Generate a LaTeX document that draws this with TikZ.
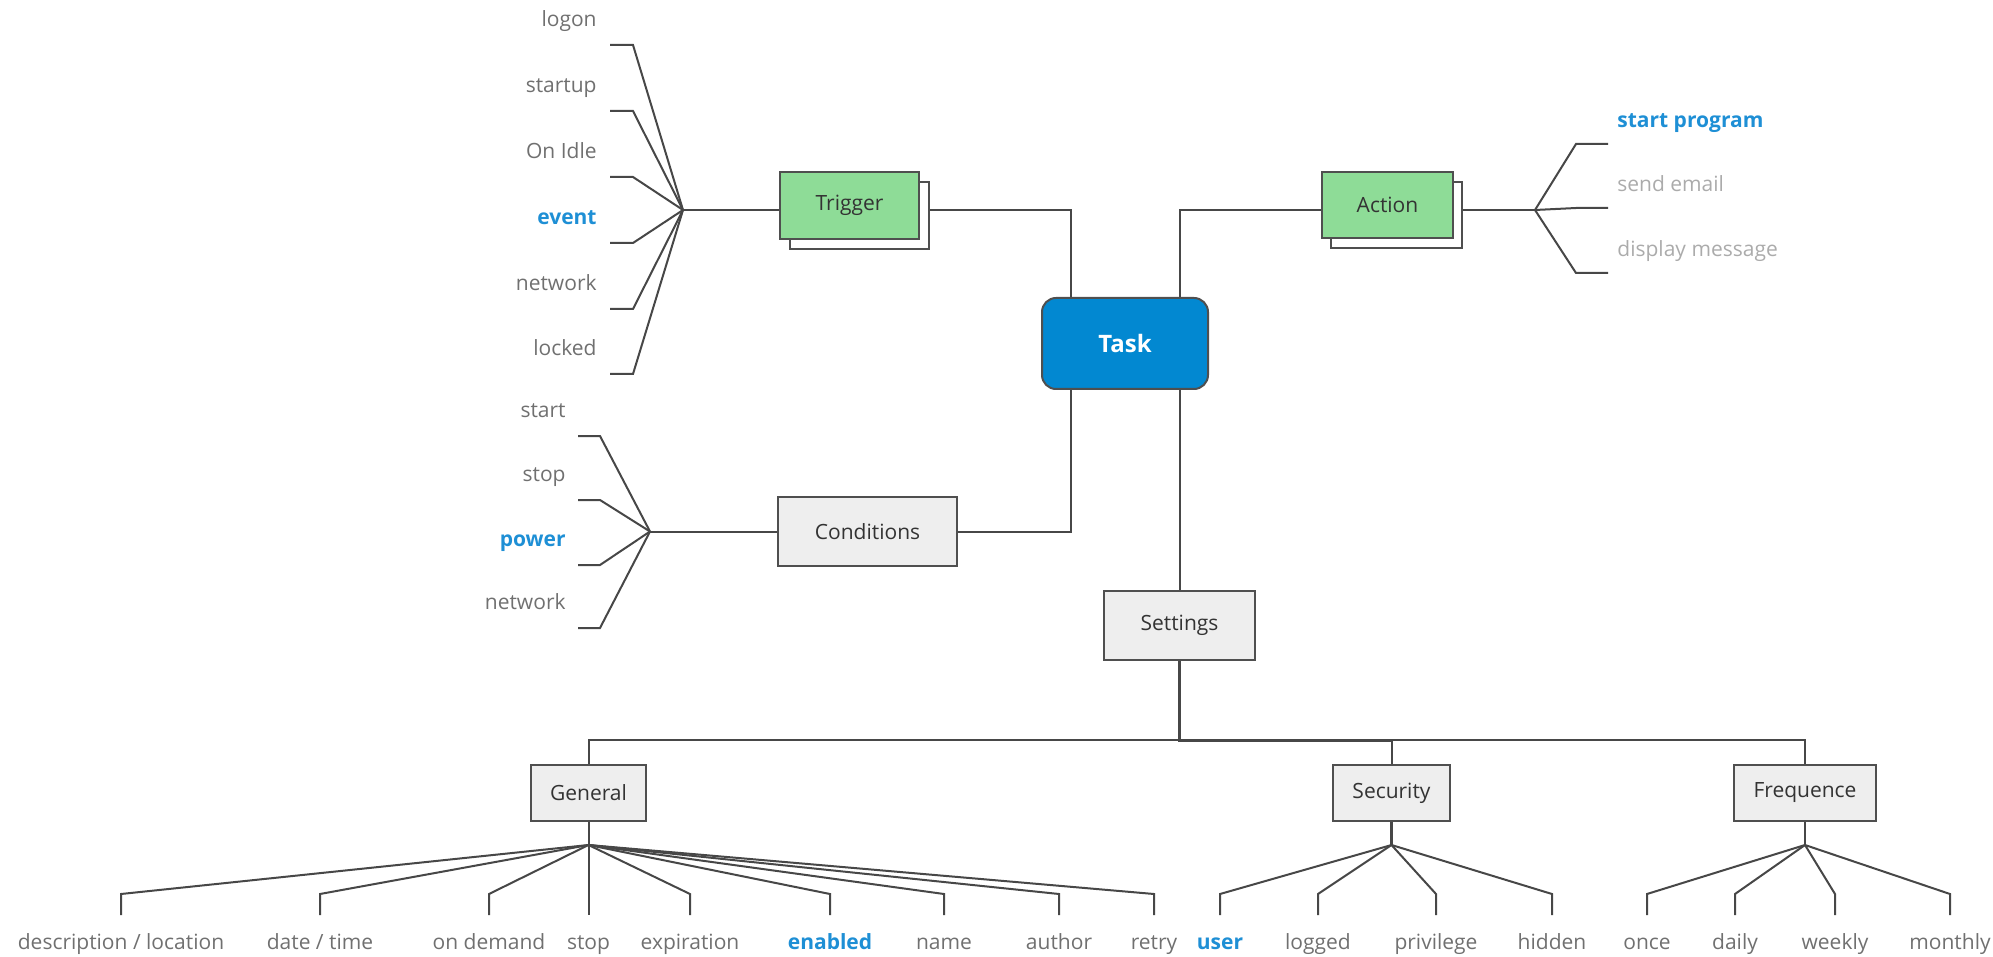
\documentclass[tikz,border=0pt]{standalone}
\usepackage{fontspec}
\setmainfont{Open Sans}
\definecolor{lc}{HTML}{474747}
\definecolor{bc}{HTML}{4F4F4F}
\definecolor{labc}{HTML}{707070}
\definecolor{labl}{HTML}{ABABAB}
\definecolor{hlc}{HTML}{1E8FD5}
\definecolor{grn}{HTML}{8EDC97}
\definecolor{gfl}{HTML}{EEEEEE}
\definecolor{taskc}{HTML}{0288D1}
\definecolor{txc}{HTML}{333333}
\begin{document}
\begin{tikzpicture}[x=0.5pt,y=-0.5pt,
  ln/.style={draw=lc,line width=1pt},
  lab/.style={text=labc,font=\fontsize{10.5}{12}\selectfont,inner sep=0pt,text height=8pt,text depth=2.5pt},
  hi/.style={text=hlc,font=\fontsize{10.5}{12}\selectfont\bfseries},
  light/.style={text=labl},
  box/.style n args={2}{draw=bc,line width=1pt,inner sep=0pt,minimum width=#1*0.5pt,minimum height=#2*0.5pt,font=\fontsize{10.5}{12}\selectfont,text=txc},
]
\useasboundingbox (0,0) rectangle (1993,957);

% ---------- main nodes ----------
\node[box={139}{67},fill=white] (trigS) at (859.5,215.5) {};
\node[box={139}{67},fill=grn] (trig) at (849.5,205.5) {Trigger};
\node[box={131}{66},fill=white] (actS) at (1396.5,215) {};
\node[box={131}{66},fill=grn] (act) at (1387.5,205) {Action};
\node[box={166}{91},fill=taskc,rounded corners=7pt,text=white,font=\fontsize{12}{14}\selectfont\bfseries] (task) at (1125,343.5) {Task};
\node[box={179}{69},fill=gfl] (cond) at (867.5,531.5) {Conditions};
\node[box={151}{69},fill=gfl] (set) at (1179.5,625.5) {Settings};
\node[box={115}{56},fill=gfl] (gen) at (588.5,793) {General};
\node[box={117}{56},fill=gfl] (sec) at (1391.5,793) {Security};
\node[box={142}{56},fill=gfl,line width=1.3pt] (fre) at (1805,793) {Frequence};

% ---------- helper coordinates ----------
\coordinate (tfan) at (683,210);
\coordinate (cfan) at (650,531.5);
\coordinate (afan) at (1535,210);
\coordinate (gfan) at (588.5,845);
\coordinate (sfan) at (1391.5,845);
\coordinate (ffan) at (1805,845);
\coordinate (tl) at (1071,0);
\coordinate (bus) at (0,740);
\coordinate (st) at (0,894);
\coordinate (sb) at (0,915);

% ---------- trunk connectors ----------
\draw[ln] (tfan) -- (trig.west |- tfan);
\draw[ln] (trigS.east |- tfan) -| (tl |- task.north);
\draw[ln] (act.west |- afan) -| (set.north |- task.north);
\draw[ln] (actS.east |- afan) -- (afan);
\draw[ln] (cond.west) -- (cfan);
\draw[ln] (cond.east) -| (tl |- task.south);
\draw[ln] (set.north |- task.south) -- (set.north);
\draw[ln,line width=1.5pt] (set.south) -- (set.south |- bus) -- (bus -| sec.north);
\draw[ln] (set.south |- bus) -| (gen.north);
\draw[ln] (set.south |- bus) -| (sec.north);
\draw[ln] (set.south |- bus) -| (fre.north);
\draw[ln] (gen.south) -- (gfan);
\draw[ln,line width=1.4pt] (sec.south) -- (sfan);
\draw[ln] (fre.south) -- (ffan);

% ---------- trigger leaves ----------
\node[lab,anchor=east] (t1) at (597,21) {logon};
\node[lab,anchor=east] (t2) at (597,87) {startup};
\node[lab,anchor=east] (t3) at (597,153) {On Idle};
\node[lab,hi,anchor=east] (t4) at (597,219) {event};
\node[lab,anchor=east] (t5) at (597,285) {network};
\node[lab,anchor=east] (t6) at (597,350) {locked};
\foreach \n in {t1,t2,t3,t4,t5,t6}
  \draw[ln] (tfan) -- ([shift={(36,24)}]\n.east) -- ([shift={(13,24)}]\n.east);

% ---------- condition leaves ----------
\node[lab,anchor=east] (c1) at (566,412) {start};
\node[lab,anchor=east] (c2) at (566,476) {stop};
\node[lab,hi,anchor=east] (c3) at (566,541) {power};
\node[lab,anchor=east] (c4) at (566,604) {network};
\foreach \n in {c1,c2,c3,c4}
  \draw[ln] (cfan) -- ([shift={(34,24)}]\n.east) -- ([shift={(12,24)}]\n.east);

% ---------- action leaves ----------
\node[lab,hi,anchor=west] (a1) at (1617,122) {start program};
\node[lab,light,anchor=west] (a2) at (1617,186) {send email};
\node[lab,light,anchor=west] (a3) at (1617,251) {display message};
\foreach \n in {a1,a2,a3}
  \draw[ln] (afan) -- ([shift={(-41,22)}]\n.west) -- ([shift={(-9,22)}]\n.west);

% ---------- general leaves ----------
\node[lab] (g1) at (121,944) {description / location};
\node[lab] (g2) at (320,944) {date / time};
\node[lab] (g3) at (489,944) {on demand};
\node[lab] (g4) at (588.5,944) {stop};
\node[lab] (g5) at (690,944) {expiration};
\node[lab,hi] (g6) at (830,944) {enabled};
\node[lab] (g7) at (944,944) {name};
\node[lab] (g8) at (1059,944) {author};
\node[lab] (g9) at (1154,944) {retry};
\foreach \n in {g1,g2,g3,g4,g5,g6,g7,g8,g9}
  \draw[ln] (gfan) -- (\n |- st) -- (\n |- sb);

% ---------- security leaves ----------
\node[lab,hi] (s1) at (1220,944) {user};
\node[lab] (s2) at (1318,944) {logged};
\node[lab] (s3) at (1436,944) {privilege};
\node[lab] (s4) at (1552,944) {hidden};
\foreach \n in {s1,s2,s3,s4}
  \draw[ln] (sfan) -- (\n |- st) -- (\n |- sb);

% ---------- frequence leaves ----------
\node[lab] (f1) at (1647,944) {once};
\node[lab] (f2) at (1735,944) {daily};
\node[lab] (f3) at (1835,944) {weekly};
\node[lab] (f4) at (1950,944) {monthly};
\foreach \n in {f1,f2,f3,f4}
  \draw[ln] (ffan) -- (\n |- st) -- (\n |- sb);
\end{tikzpicture}
\end{document}
